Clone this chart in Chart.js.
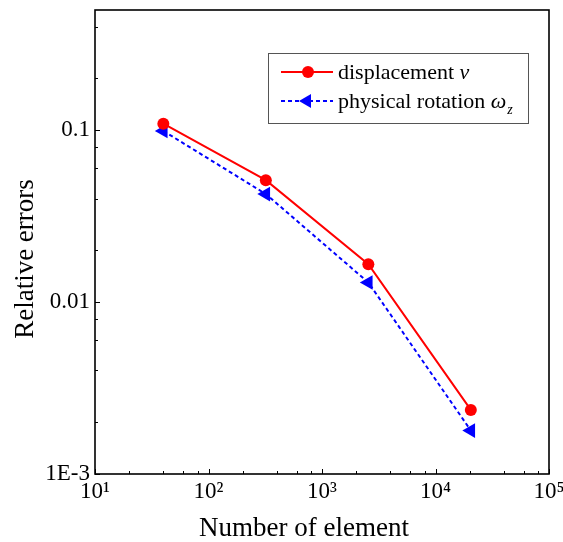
<!DOCTYPE html>
<html>
<head>
<meta charset="utf-8">
<script src="https://cdn.jsdelivr.net/npm/chart.js@4/dist/chart.umd.min.js"></script>
<style>
html,body{margin:0;padding:0;background:#fff;}
canvas{display:block;}
</style>
</head>
<body>
<canvas id="errChart" width="563" height="542"></canvas>
<script>
/* mesh refinement: relative errors */

const elements=[40,320,2560,20480];
const dispErr=[0.109,0.0512,0.0166,0.00236];
const rotErr=[0.099,0.0425,0.0130,0.00179];

const xMajor=[10,100,1000,10000,100000];
const xTickLabels=["10¹","10²","10³","10⁴","10⁵"];
const xMinor=[2,4,6,8];
const yMajor=[0.001,0.01,0.1];
const yTickLabels=["1E-3","0.01","0.1"];
const yMinor=[2,4,6,8];

const serif="'Liberation Serif','Times New Roman',serif";

// inward ticks, frame, axis titles, legend
const framePlugin={
id:"frame",
afterDraw(chart){
const c=chart.ctx;
const a=chart.chartArea;
const x=chart.scales.x;
const y=chart.scales.y;
c.save();
c.strokeStyle="#000";
c.lineWidth=1;
const tick=(x1,y1,x2,y2)=>{c.beginPath();c.moveTo(x1,y1);c.lineTo(x2,y2);c.stroke();};
xMajor.forEach(v=>{
const px=Math.round(x.getPixelForValue(v))+0.5;
tick(px,a.bottom,px,a.bottom-5);
if(v<100000){
xMinor.forEach(m=>{
const mx=Math.round(x.getPixelForValue(v*m))+0.5;
tick(mx,a.bottom,mx,a.bottom-3);
});
}
});
yMajor.forEach(v=>{
const py=Math.round(y.getPixelForValue(v))+0.5;
tick(a.left,py,a.left+5,py);
yMinor.forEach(m=>{
if(v*m<=0.5){
const my=Math.round(y.getPixelForValue(v*m))+0.5;
tick(a.left,my,a.left+3,my);
}
});
});
c.lineWidth=1.6;
c.strokeRect(a.left,a.top,a.right-a.left,a.bottom-a.top);

// axis titles
c.fillStyle="#000";
c.font="27px "+serif;
c.textAlign="center";
c.textBaseline="alphabetic";
c.fillText("Number of element",304,536);
c.save();
c.translate(33,259);
c.rotate(-Math.PI/2);
c.fillText("Relative errors",0,0);
c.restore();

// legend
c.lineWidth=1;
c.strokeStyle="#555";
c.strokeRect(268.5,53.5,260,70);

c.lineWidth=2;
c.strokeStyle="#ff0000";
c.setLineDash([]);
tick(281,72,333,72);
c.fillStyle="#ff0000";
c.beginPath();
c.arc(308,72,6,0,Math.PI*2);
c.fill();

c.strokeStyle="#0000ff";
c.setLineDash([4,3]);
tick(281,101,333,101);
c.setLineDash([]);
c.fillStyle="#0000ff";
c.beginPath();
c.moveTo(299,101);
c.lineTo(311,94);
c.lineTo(311,108);
c.closePath();
c.fill();

c.fillStyle="#000";
c.textAlign="left";
c.font="22px "+serif;
c.fillText("displacement ",338,79);
let w=c.measureText("displacement ").width;
c.font="italic 22px "+serif;
c.fillText("v",338+w,79);

c.font="22px "+serif;
c.fillText("physical rotation ",338,108);
w=c.measureText("physical rotation ").width;
c.font="italic 22px "+serif;
c.fillText("ω",338+w,108);
const w2=c.measureText("ω").width;
c.font="italic 14px "+serif;
c.fillText("z",338+w+w2+1,114);
c.restore();
}
};

const ctx=document.getElementById("errChart");

new Chart(ctx,{

type:"line",

data:{

datasets:[{

label:"displacement v",

data:elements.map((e,i)=>({x:e,y:dispErr[i]})),

borderColor:"#ff0000",

backgroundColor:"#ff0000",

borderWidth:2,

pointStyle:"circle",

pointRadius:6,

pointBorderWidth:0,

tension:0

},{

label:"physical rotation ωz",

data:elements.map((e,i)=>({x:e,y:rotErr[i]})),

borderColor:"#0000ff",

backgroundColor:"#0000ff",

borderWidth:2,

borderDash:[4,3],

pointStyle:"triangle",

pointRotation:-90,

pointRadius:8.5,

pointBorderWidth:0,

tension:0

}]

},

options:{

responsive:false,

animation:false,

layout:{

padding:{top:10,right:14,left:0,bottom:0}

},

plugins:{

legend:{display:false},

tooltip:{enabled:false}

},

scales:{

x:{

type:"logarithmic",

min:10,

max:100000,

afterBuildTicks:function(s){s.ticks=xMajor.map(v=>({value:v}));},

afterFit:function(s){s.height=68;s.paddingLeft=0;s.paddingRight=0;},

grid:{display:false,drawTicks:false},

border:{display:false},

ticks:{

autoSkip:false,

maxRotation:0,

padding:4,

color:"#000",

font:{family:serif,size:23},

callback:function(value){return xTickLabels[xMajor.indexOf(value)];}

}

},

y:{

type:"logarithmic",

min:0.001,

max:0.5,

afterBuildTicks:function(s){s.ticks=yMajor.map(v=>({value:v}));},

afterFit:function(s){s.width=95;s.paddingTop=0;s.paddingBottom=0;},

grid:{display:false,drawTicks:false},

border:{display:false},

ticks:{

autoSkip:false,

padding:5,

color:"#000",

font:{family:serif,size:23},

callback:function(value){return yTickLabels[yMajor.indexOf(value)];}

}

}

}

},

plugins:[framePlugin]

});
</script>
</body>
</html>
